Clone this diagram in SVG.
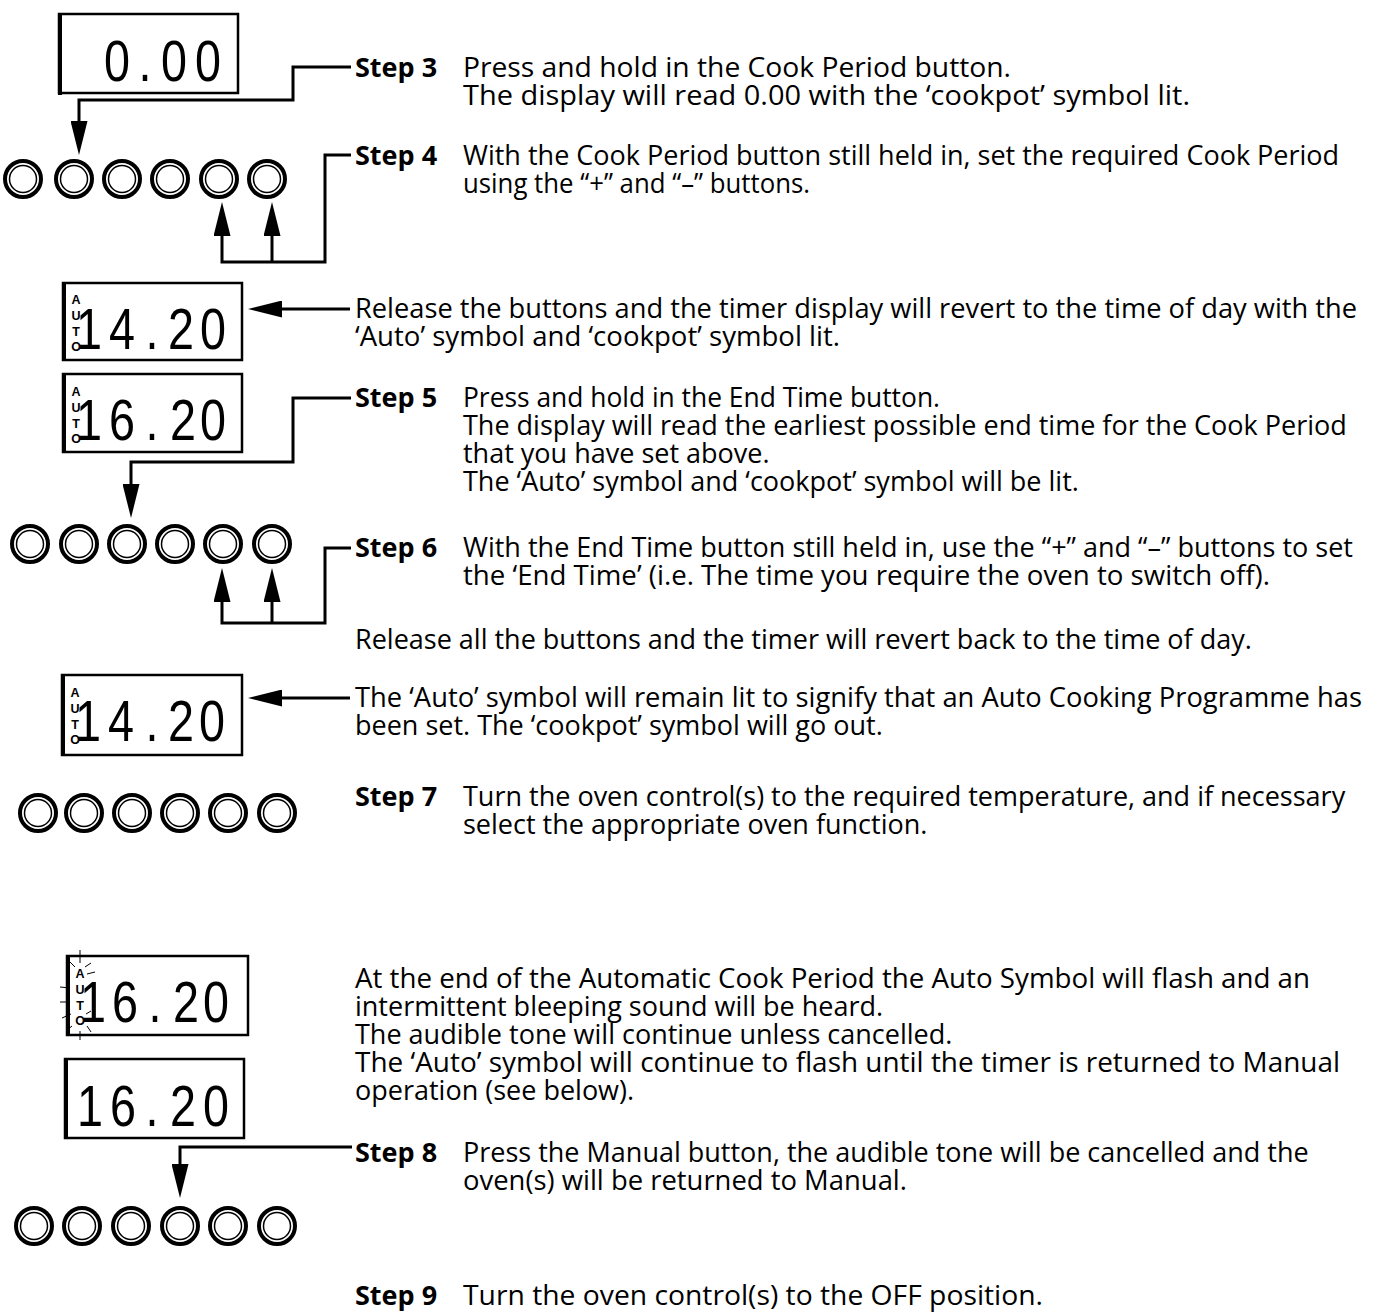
<svg xmlns="http://www.w3.org/2000/svg" xmlns:xlink="http://www.w3.org/1999/xlink" width="1375" height="1313" viewBox="0 0 1375 1313">
<style>
.t{font-family:"Open Sans","Noto Sans",sans-serif;font-size:27px;fill:#000}
.b{font-weight:700}
.lcd{font-family:"Liberation Sans",Arial,sans-serif;font-size:57px;text-anchor:middle;fill:#000}
.auto{font-family:"Liberation Sans",Arial,sans-serif;font-size:12.5px;font-weight:700;text-anchor:middle;fill:#000}
.box{fill:#fff;stroke:#000;stroke-width:2.5}
.edge{stroke:#000;stroke-width:4}
.ring{fill:#fff;stroke:#000;stroke-width:4}
.inner{fill:none;stroke:#000;stroke-width:1.5}
.conn{fill:none;stroke:#000;stroke-width:3}
.ray{stroke:#000;stroke-width:1}
</style>
<defs>
<marker id="ah" markerUnits="userSpaceOnUse" viewBox="0 0 34 17" refX="24" refY="8.5" markerWidth="34" markerHeight="17" orient="auto">
<path d="M0,0 L34,8.5 L0,17 z" fill="#000"/>
</marker>
<g id="btn"><circle r="18" class="ring"/><circle r="13.5" class="inner"/></g>
</defs>

<!-- displays -->
<g id="disp1">
<rect x="59" y="14" width="179" height="79" class="box"/>
<line x1="60" y1="14" x2="60" y2="95" class="edge"/>
<text class="lcd" transform="scale(0.82,1)" x="142.7 176.8 212.2 253.7" y="81">0.00</text>
</g>
<g id="disp2">
<rect x="63" y="283" width="179" height="77" class="box"/>
<line x1="64" y1="283" x2="64" y2="361" class="edge"/>
<text class="auto" x="76" y="304">A</text><text class="auto" x="76" y="320">U</text><text class="auto" x="76" y="336">T</text><text class="auto" x="76" y="351">O</text>
<text class="lcd" transform="scale(0.82,1)" x="108.5 148.8 185.4 220.7 259.8" y="349">14.20</text>
</g>
<g id="disp3">
<rect x="63" y="374" width="179" height="78" class="box"/>
<line x1="64" y1="374" x2="64" y2="453" class="edge"/>
<text class="auto" x="76" y="396">A</text><text class="auto" x="76" y="412">U</text><text class="auto" x="76" y="428">T</text><text class="auto" x="76" y="443">O</text>
<text class="lcd" transform="scale(0.82,1)" x="108.5 148.8 185.4 223.2 259.8" y="440">16.20</text>
</g>
<g id="disp4">
<rect x="62" y="675" width="180" height="80" class="box"/>
<line x1="63" y1="675" x2="63" y2="756" class="edge"/>
<text class="auto" x="75" y="697">A</text><text class="auto" x="75" y="713">U</text><text class="auto" x="75" y="729">T</text><text class="auto" x="75" y="744">O</text>
<text class="lcd" transform="scale(0.82,1)" x="107.3 147.6 185.4 220.7 258.5" y="741">14.20</text>
</g>
<g id="disp5">
<rect x="67" y="956" width="181" height="79" class="box"/>
<line x1="68" y1="956" x2="68" y2="1036" class="edge"/>
<text class="auto" x="80" y="978">A</text><text class="auto" x="80" y="994">U</text><text class="auto" x="80" y="1010">T</text><text class="auto" x="80" y="1025">O</text>
<g class="ray">
<line x1="80" y1="950" x2="80" y2="963"/>
<line x1="70" y1="962" x2="75" y2="967"/>
<line x1="85" y1="967" x2="91" y2="963"/>
<line x1="87" y1="974" x2="95" y2="972"/>
<line x1="60" y1="987" x2="70" y2="988"/>
<line x1="60" y1="1002" x2="70" y2="1002"/>
<line x1="62" y1="1018" x2="71" y2="1014"/>
<line x1="66" y1="1031" x2="72" y2="1026"/>
<line x1="80" y1="1031" x2="80" y2="1040"/>
<line x1="87" y1="1026" x2="91" y2="1032"/>
<line x1="86" y1="1014" x2="91" y2="1011"/>
</g>
<text class="lcd" transform="scale(0.82,1)" x="113.4 152.4 189.0 226.8 263.4" y="1022">16.20</text>
</g>
<g id="disp6">
<rect x="65" y="1059" width="179" height="79" class="box"/>
<line x1="66" y1="1059" x2="66" y2="1139" class="edge"/>
<text class="lcd" transform="scale(0.82,1)" x="109.7 150 185.4 223.2 263.4" y="1126">16.20</text>
</g>

<!-- button rows -->
<g id="buttons1">
<use xlink:href="#btn" x="23" y="179"/><use xlink:href="#btn" x="74" y="179"/><use xlink:href="#btn" x="122" y="179"/><use xlink:href="#btn" x="170" y="179"/><use xlink:href="#btn" x="219" y="179"/><use xlink:href="#btn" x="267" y="179"/>
</g>
<g id="buttons2">
<use xlink:href="#btn" x="30" y="544"/><use xlink:href="#btn" x="79" y="544"/><use xlink:href="#btn" x="127" y="544"/><use xlink:href="#btn" x="175" y="544"/><use xlink:href="#btn" x="223" y="544"/><use xlink:href="#btn" x="272" y="544"/>
</g>
<g id="buttons3">
<use xlink:href="#btn" x="38" y="813"/><use xlink:href="#btn" x="84" y="813"/><use xlink:href="#btn" x="132" y="813"/><use xlink:href="#btn" x="180" y="813"/><use xlink:href="#btn" x="228" y="813"/><use xlink:href="#btn" x="277" y="813"/>
</g>
<g id="buttons4">
<use xlink:href="#btn" x="34" y="1226"/><use xlink:href="#btn" x="82" y="1226"/><use xlink:href="#btn" x="131" y="1226"/><use xlink:href="#btn" x="180" y="1226"/><use xlink:href="#btn" x="228" y="1226"/><use xlink:href="#btn" x="277" y="1226"/>
</g>

<!-- connectors -->
<g id="connectors" class="conn">
<path d="M351,67 H293 V100 H79 V145" marker-end="url(#ah)"/>
<path d="M351,155 H325 V262 H222 V212" marker-end="url(#ah)"/>
<path d="M272,262 V212" marker-end="url(#ah)"/>
<path d="M350,309 H258" marker-end="url(#ah)"/>
<path d="M351,398 H293 V462 H131 V508" marker-end="url(#ah)"/>
<path d="M351,548 H325 V623 H222 V578" marker-end="url(#ah)"/>
<path d="M272,623 V578" marker-end="url(#ah)"/>
<path d="M350,698 H258" marker-end="url(#ah)"/>
<path d="M352,1147 H180 V1188" marker-end="url(#ah)"/>
</g>

<!-- texts -->
<g id="step3" class="t">
<text x="355" y="77" class="b">Step 3</text>
<text x="463" y="77" textLength="548" lengthAdjust="spacingAndGlyphs">Press and hold in the Cook Period button.</text>
<text x="463" y="105" textLength="727" lengthAdjust="spacingAndGlyphs">The display will read 0.00 with the ‘cookpot’ symbol lit.</text>
</g>
<g id="step4" class="t">
<text x="355" y="165" class="b">Step 4</text>
<text x="463" y="165">With the Cook Period button still held in, set the required Cook Period</text>
<text x="463" y="193" textLength="347" lengthAdjust="spacingAndGlyphs">using the “+” and “–” buttons.</text>
</g>
<g id="release1" class="t">
<text x="355" y="318" textLength="1002" lengthAdjust="spacingAndGlyphs">Release the buttons and the timer display will revert to the time of day with the</text>
<text x="355" y="346" textLength="485" lengthAdjust="spacingAndGlyphs">‘Auto’ symbol and ‘cookpot’ symbol lit.</text>
</g>
<g id="step5" class="t">
<text x="355" y="407" class="b">Step 5</text>
<text x="463" y="407" textLength="477" lengthAdjust="spacingAndGlyphs">Press and hold in the End Time button.</text>
<text x="463" y="435">The display will read the earliest possible end time for the Cook Period</text>
<text x="463" y="463">that you have set above.</text>
<text x="463" y="491">The ‘Auto’ symbol and ‘cookpot’ symbol will be lit.</text>
</g>
<g id="step6" class="t">
<text x="355" y="557" class="b">Step 6</text>
<text x="463" y="557">With the End Time button still held in, use the “+” and “–” buttons to set</text>
<text x="463" y="585" textLength="807" lengthAdjust="spacingAndGlyphs">the ‘End Time’ (i.e. The time you require the oven to switch off).</text>
</g>
<g id="release2" class="t">
<text x="355" y="649">Release all the buttons and the timer will revert back to the time of day.</text>
<text x="355" y="707" textLength="1007" lengthAdjust="spacingAndGlyphs">The ‘Auto’ symbol will remain lit to signify that an Auto Cooking Programme has</text>
<text x="355" y="735">been set. The ‘cookpot’ symbol will go out.</text>
</g>
<g id="step7" class="t">
<text x="355" y="806" class="b">Step 7</text>
<text x="463" y="806">Turn the oven control(s) to the required temperature, and if necessary</text>
<text x="463" y="834">select the appropriate oven function.</text>
</g>
<g id="endcook" class="t">
<text x="355" y="988" textLength="955" lengthAdjust="spacingAndGlyphs">At the end of the Automatic Cook Period the Auto Symbol will flash and an</text>
<text x="355" y="1016">intermittent bleeping sound will be heard.</text>
<text x="355" y="1044">The audible tone will continue unless cancelled.</text>
<text x="355" y="1072" textLength="985" lengthAdjust="spacingAndGlyphs">The ‘Auto’ symbol will continue to flash until the timer is returned to Manual</text>
<text x="355" y="1100">operation (see below).</text>
</g>
<g id="step8" class="t">
<text x="355" y="1162" class="b">Step 8</text>
<text x="463" y="1162">Press the Manual button, the audible tone will be cancelled and the</text>
<text x="463" y="1190" textLength="444" lengthAdjust="spacingAndGlyphs">oven(s) will be returned to Manual.</text>
</g>
<g id="step9" class="t">
<text x="355" y="1305" class="b">Step 9</text>
<text x="463" y="1305" textLength="580" lengthAdjust="spacingAndGlyphs">Turn the oven control(s) to the OFF position.</text>
</g>
</svg>
